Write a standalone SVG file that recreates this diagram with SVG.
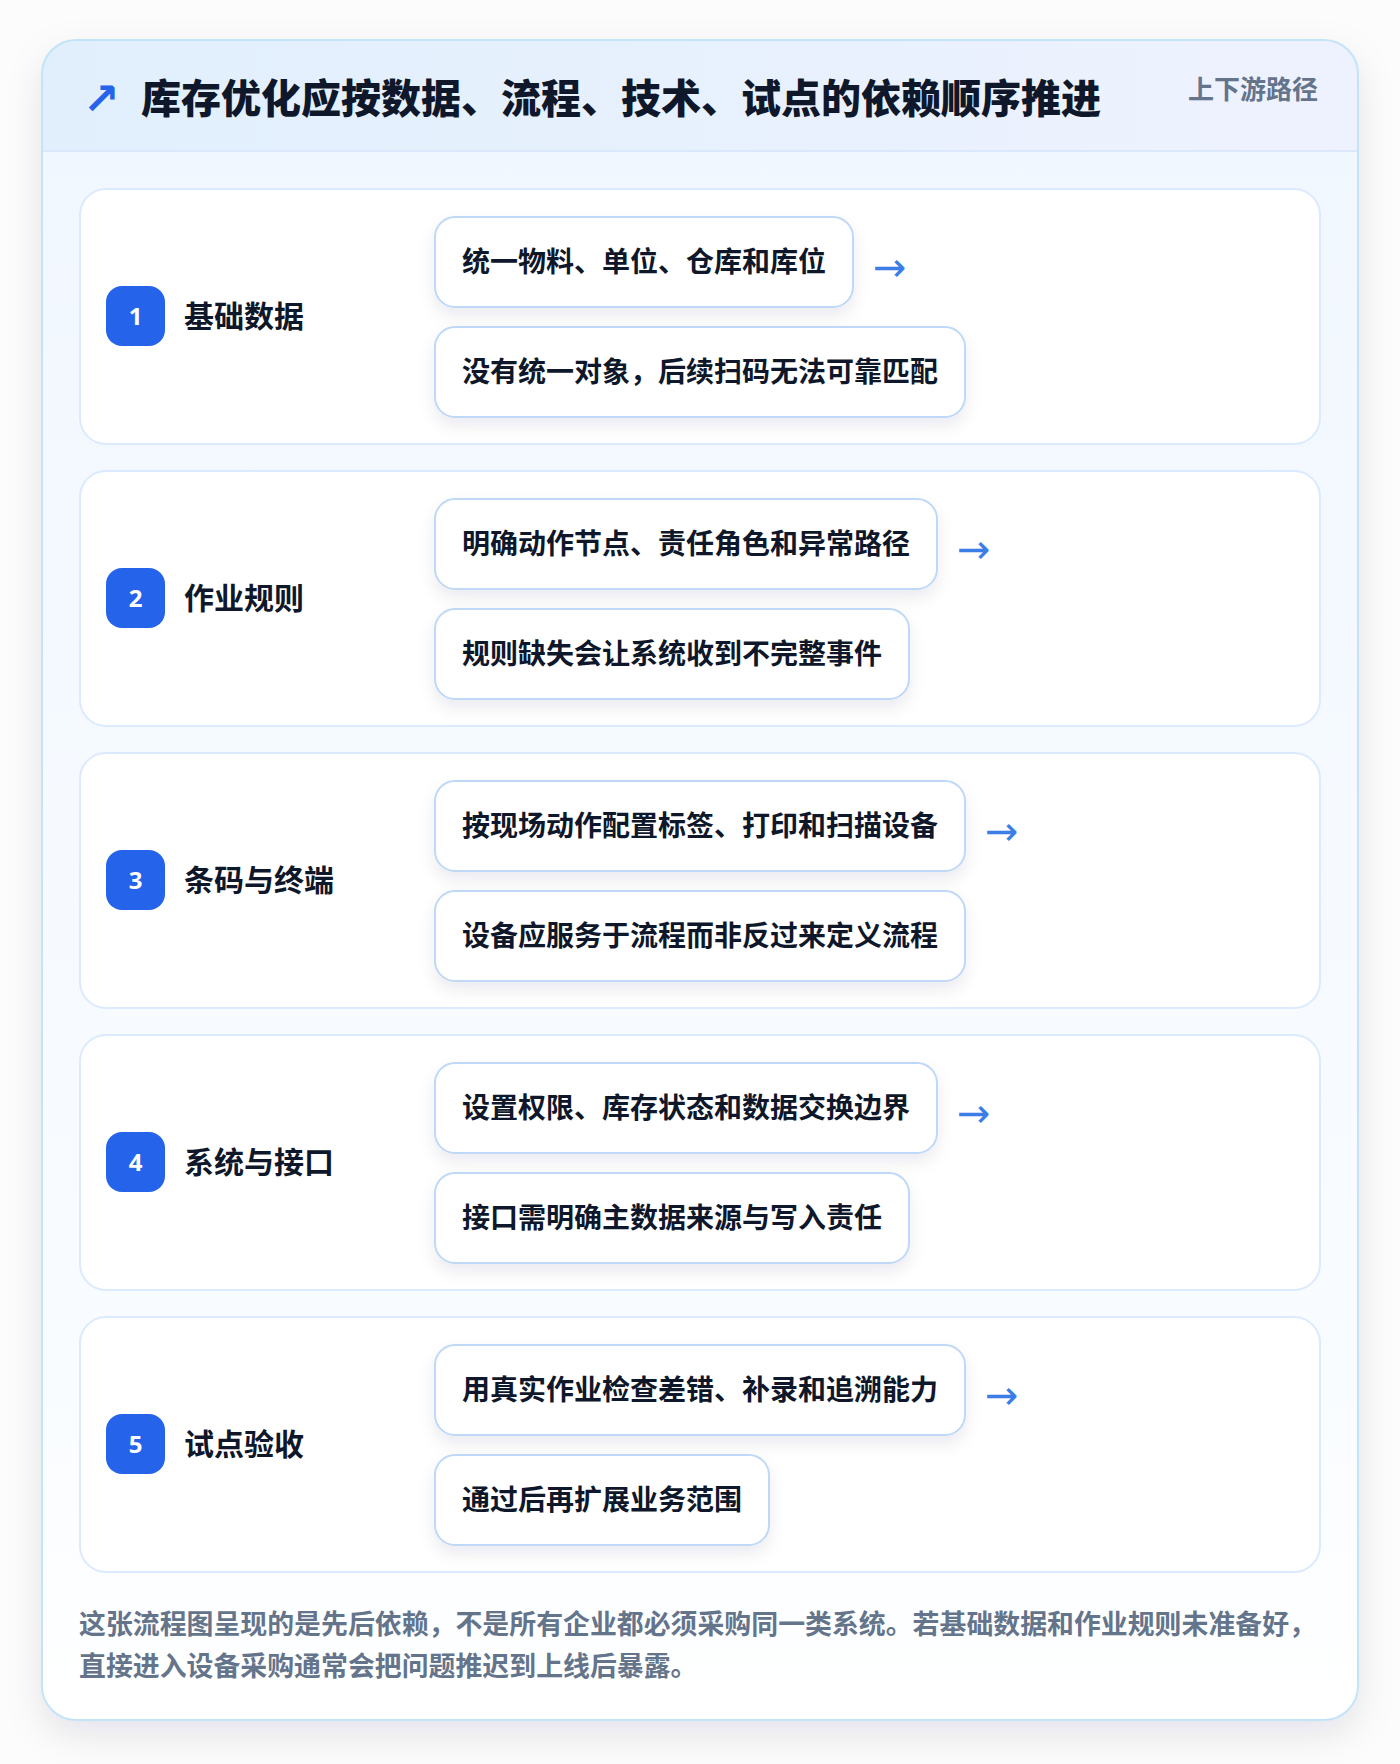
<svg xmlns="http://www.w3.org/2000/svg" width="1400" height="1764" viewBox="0 0 1400 1764">
<defs>
<linearGradient id="hdr" x1="0" y1="0" x2="1" y2="0"><stop offset="0" stop-color="#e1effd"/><stop offset="1" stop-color="#eef2fe"/></linearGradient>
<linearGradient id="body" x1="0" y1="0" x2="0" y2="1"><stop offset="0" stop-color="#f1f7ff"/><stop offset="0.8" stop-color="#f9fcff"/><stop offset="1" stop-color="#ffffff"/></linearGradient>
<filter id="cardsh" x="-10%" y="-10%" width="120%" height="120%"><feDropShadow dx="0" dy="14" stdDeviation="18" flood-color="#0f172a" flood-opacity="0.10"/></filter>
<filter id="boxsh" x="-10%" y="-30%" width="120%" height="170%"><feDropShadow dx="0" dy="8" stdDeviation="8" flood-color="#1e293b" flood-opacity="0.08"/></filter>
<clipPath id="cardclip"><rect x="42" y="40" width="1316" height="1680" rx="34"/></clipPath>
</defs>
<style>
text{font-family:"Noto Sans CJK SC","Noto Sans",sans-serif;font-weight:700}
.panel{fill:#ffffff;stroke:#dbeafe;stroke-width:2}
.box{fill:#ffffff;stroke:#bfd8f7;stroke-width:2;filter:url(#boxsh)}
.badge{fill:#2563eb}
.num{fill:#ffffff;font-size:24px;text-anchor:middle;font-family:"Noto Sans","Noto Sans CJK SC",sans-serif}
.lbl{fill:#0f172a;font-size:30px}
.bt{fill:#0f172a;font-size:28px}
.arr{fill:#3b7ee8;font-size:40px;font-weight:400;font-family:"DejaVu Sans",sans-serif}
.ft{fill:#64748b;font-size:26.9px}
</style>
<rect width="1400" height="1764" fill="#fcfcfd"/>
<g id="card">
<rect x="42" y="40" width="1316" height="1680" rx="34" fill="#ffffff" filter="url(#cardsh)"/>
<g clip-path="url(#cardclip)">
<rect x="42" y="40" width="1316" height="1680" fill="url(#body)"/>
<rect x="42" y="40" width="1316" height="111" fill="url(#hdr)"/>
<line x1="42" y1="151" x2="1358" y2="151" stroke="#dbe8fb" stroke-width="2"/>
</g>
<rect x="42" y="40" width="1316" height="1680" rx="34" fill="none" stroke="#c3e4f8" stroke-width="2"/>
</g>
<g id="header">
<text x="83" y="114" style="fill:#2563eb;font-size:44px;font-weight:700;font-family:'DejaVu Sans',sans-serif">↗</text>
<text x="141" y="113" style="fill:#0f172a;font-size:40px;font-weight:900">库存优化应按数据、流程、技术、试点的依赖顺序推进</text>
<text x="1188" y="99" style="fill:#64748b;font-size:26px">上下游路径</text>
</g>
<g id="stage1">
<rect class="panel" x="80" y="189" width="1240" height="255" rx="26"/>
<rect class="badge" x="106" y="286" width="59" height="60" rx="16"/>
<text class="num" x="135.5" y="325">1</text>
<text class="lbl" x="184" y="327">基础数据</text>
<rect class="box" x="435" y="217" width="418" height="90" rx="20"/>
<text class="bt" x="462" y="272">统一物料、单位、仓库和库位</text>
<rect class="box" x="435" y="327" width="530" height="90" rx="20"/>
<text class="bt" x="462" y="382">没有统一对象，后续扫码无法可靠匹配</text>
</g>
<g id="stage2">
<rect class="panel" x="80" y="471" width="1240" height="255" rx="26"/>
<rect class="badge" x="106" y="568" width="59" height="60" rx="16"/>
<text class="num" x="135.5" y="607">2</text>
<text class="lbl" x="184" y="609">作业规则</text>
<rect class="box" x="435" y="499" width="502" height="90" rx="20"/>
<text class="bt" x="462" y="554">明确动作节点、责任角色和异常路径</text>
<rect class="box" x="435" y="609" width="474" height="90" rx="20"/>
<text class="bt" x="462" y="664">规则缺失会让系统收到不完整事件</text>
</g>
<g id="stage3">
<rect class="panel" x="80" y="753" width="1240" height="255" rx="26"/>
<rect class="badge" x="106" y="850" width="59" height="60" rx="16"/>
<text class="num" x="135.5" y="889">3</text>
<text class="lbl" x="184" y="891">条码与终端</text>
<rect class="box" x="435" y="781" width="530" height="90" rx="20"/>
<text class="bt" x="462" y="836">按现场动作配置标签、打印和扫描设备</text>
<rect class="box" x="435" y="891" width="530" height="90" rx="20"/>
<text class="bt" x="462" y="946">设备应服务于流程而非反过来定义流程</text>
</g>
<g id="stage4">
<rect class="panel" x="80" y="1035" width="1240" height="255" rx="26"/>
<rect class="badge" x="106" y="1132" width="59" height="60" rx="16"/>
<text class="num" x="135.5" y="1171">4</text>
<text class="lbl" x="184" y="1173">系统与接口</text>
<rect class="box" x="435" y="1063" width="502" height="90" rx="20"/>
<text class="bt" x="462" y="1118">设置权限、库存状态和数据交换边界</text>
<rect class="box" x="435" y="1173" width="474" height="90" rx="20"/>
<text class="bt" x="462" y="1228">接口需明确主数据来源与写入责任</text>
</g>
<g id="stage5">
<rect class="panel" x="80" y="1317" width="1240" height="255" rx="26"/>
<rect class="badge" x="106" y="1414" width="59" height="60" rx="16"/>
<text class="num" x="135.5" y="1453">5</text>
<text class="lbl" x="184" y="1455">试点验收</text>
<rect class="box" x="435" y="1345" width="530" height="90" rx="20"/>
<text class="bt" x="462" y="1400">用真实作业检查差错、补录和追溯能力</text>
<rect class="box" x="435" y="1455" width="334" height="90" rx="20"/>
<text class="bt" x="462" y="1510">通过后再扩展业务范围</text>
</g>
<g id="connectors">
<text class="arr" x="873" y="281">→</text>
<text class="arr" x="957" y="563">→</text>
<text class="arr" x="985" y="845">→</text>
<text class="arr" x="957" y="1127">→</text>
<text class="arr" x="985" y="1409">→</text>
</g>
<g id="footer">
<text class="ft" x="79" y="1634">这张流程图呈现的是先后依赖，不是所有企业都必须采购同一类系统。若基础数据和作业规则未准备好，</text>
<text class="ft" x="79" y="1676">直接进入设备采购通常会把问题推迟到上线后暴露。</text>
</g>
</svg>
